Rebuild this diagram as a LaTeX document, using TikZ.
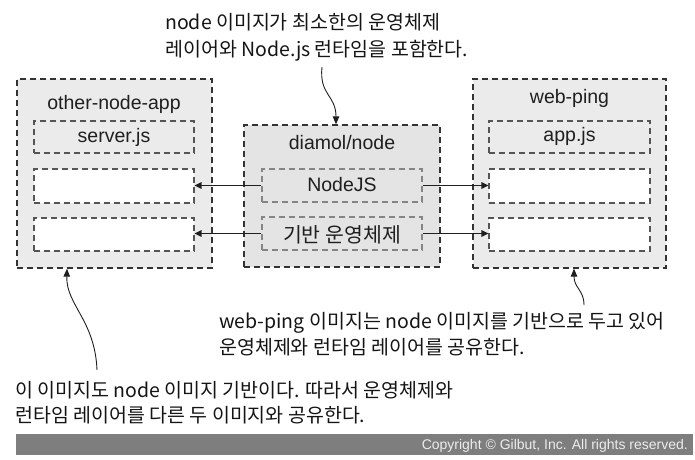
\documentclass[tikz,border=0pt]{standalone}
\usepackage{fontspec}
\setmainfont{Liberation Sans}
\newfontfamily\kr{Noto Sans CJK KR}
\usetikzlibrary{arrows.meta}
\definecolor{boxfill}{HTML}{EBEBEB}
\definecolor{midfill}{HTML}{E4E4E4}
\definecolor{bord}{HTML}{333333}
\definecolor{innerbord}{HTML}{555555}
\definecolor{midinner}{HTML}{858585}
\definecolor{bar}{HTML}{7E7E7E}
\tikzset{
  outerbox/.style={draw=bord, line width=1.3pt, dash pattern=on 6pt off 4pt, fill=boxfill, inner sep=0pt},
  innerwhite/.style={draw=innerbord, line width=1.1pt, dash pattern=on 6pt off 4pt, fill=white, inner sep=0pt, minimum width=160pt},
  innergray/.style={innerwhite, fill=boxfill},
  midinnerbox/.style={draw=midinner, line width=1.1pt, dash pattern=on 6pt off 4pt, fill=midfill, inner sep=0pt, minimum width=160pt, minimum height=33pt},
  lbl/.style={inner sep=0pt, font=\fontsize{19.5}{22}\selectfont, text=black!88},
  note/.style={inner sep=0pt, anchor=base west, font=\kr\fontsize{19.5}{22}\selectfont, text=black!92},
  arr/.style={draw=black!88, line width=1.5pt, -{Triangle[length=7pt,width=6.5pt]}},
  curvearr/.style={draw=black!88, line width=0.9pt, -{Triangle[length=8pt,width=6.5pt]}}
}
\begin{document}
\begin{tikzpicture}[x=1pt,y=-1pt]
\useasboundingbox (0,0) rectangle (695,459);

% outer boxes
\node[outerbox, minimum width=195pt, minimum height=189pt] (left) at (114.5,173.5) {};
\node[outerbox, fill=midfill, minimum width=196pt, minimum height=142pt] (mid) at (342,196) {};
\node[outerbox, minimum width=193pt, minimum height=189pt] (right) at (569.5,173.5) {};

% titles
\node[lbl] (ltitle) at (114,104) {other-node-app};
\node[lbl] (mtitle) at (342,143) {diamol/node};
\node[lbl] (rtitle) at (569.5,98) {web-ping};

% left inner boxes
\node[innergray, minimum height=32pt] (l1) at (114,137) {};
\node[innerwhite, minimum height=34pt] (l2) at (114,186) {};
\node[innerwhite, minimum height=33pt] (l3) at (114,234.5) {};
\node[lbl] (l1t) at (114,137) {server.js};

% right inner boxes
\node[innergray, minimum width=161pt, minimum height=32pt] (r1) at (569.5,137) {};
\node[innerwhite, minimum width=161pt, minimum height=34pt] (r2) at (569.5,186) {};
\node[innerwhite, minimum width=161pt, minimum height=33pt] (r3) at (569.5,234.5) {};
\node[lbl] (r1t) at (569.5,136) {app.js};

% middle inner boxes
\node[midinnerbox] (m1) at (342,185.5) {};
\node[midinnerbox] (m2) at (342,233.5) {};
\node[lbl] (m1t) at (342,185) {NodeJS};
\node[lbl, font=\kr\fontsize{20.5}{22}\selectfont] (m2t) at (342,235) {기반 운영체제};

% arrows
\draw[arr] (m1.west) -- (l2.east |- m1.west);
\draw[arr] (m1.east) -- (r2.west |- m1.east);
\draw[arr] (m2.west) -- (l3.east |- m2.west);
\draw[arr] (m2.east) -- (r3.west |- m2.east);

% annotations
\node[note] (ta) at (165,29) {node 이미지가 최소한의 운영체제};
\node[note] (tb) at (165,56) {레이어와 Node.js 런타임을 포함한다.};
\node[note] (wa) at (219,328) {web-ping 이미지는 node 이미지를 기반으로 두고 있어};
\node[note] (wb) at (219,354) {운영체제와 런타임 레이어를 공유한다.};
\node[note] (ba) at (15,397) {이 이미지도 node 이미지 기반이다. 따라서 운영체제와};
\node[note] (bb) at (15,422) {런타임 레이어를 다른 두 이미지와 공유한다.};

% annotation connectors
\coordinate (tstart) at (322,67);
\coordinate (rstart) at (584,305);
\coordinate (lstart) at (97,370);
\draw[curvearr] (tstart) .. controls (319,95) and (336,95) .. (mid.north -| 336,0);
\draw[curvearr] (rstart) .. controls (584,290) and (574,288) .. (right.south -| 574,0);
\draw[curvearr] (lstart) .. controls (95,320) and (66,305) .. (left.south -| 67,0);

% copyright bar
\node[fill=bar, minimum width=677pt, minimum height=21pt, inner sep=0pt, anchor=north west] (cbar) at (16,434) {};
\node[anchor=base east, inner sep=0pt, font=\fontsize{14}{16}\selectfont, text=white!93!black] (copy) at (688,449.5) {Copyright © Gilbut, Inc. All rights reserved.};
\end{tikzpicture}
\end{document}
